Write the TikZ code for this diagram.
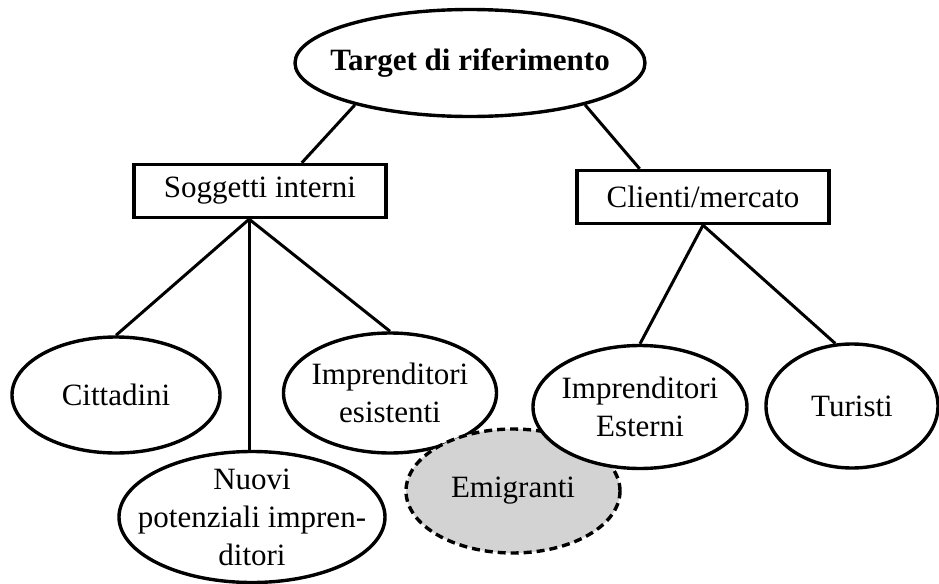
\documentclass[tikz,border=0pt]{standalone}
\usepackage{fontspec}
\setmainfont{Liberation Serif}
\usepackage{xcolor}
\usetikzlibrary{shapes.geometric}
\definecolor{emigray}{RGB}{211,211,211}

\begin{document}
\begin{tikzpicture}[x=0.5pt, y=-0.5pt,
  font=\fontsize{15.5}{19}\selectfont,
  every label/.style={align=center, inner sep=0pt},
  oval/.style={draw, ellipse, fill=white, line width=1.7pt, inner sep=0pt},
  group/.style={draw, rectangle, fill=white, line width=1.7pt, minimum width=126pt, minimum height=26.5pt},
  link/.style={line width=1.5pt}]
  \useasboundingbox (0,0) rectangle (939,584);

  \node[oval, minimum width=175pt, minimum height=53.5pt, label={center:\textbf{Target di riferimento}}] (target) at (470,63) {};

  \node[group] (soggetti) at (260,191) {Soggetti interni};
  \node[group] (clienti) at (703,197) {Clienti/mercato};

  \node[oval, minimum width=104pt, minimum height=58pt, label={center:Cittadini}] (cittadini) at (116,395) {};
  \node[oval, minimum width=133pt, minimum height=65.5pt, label={center:Nuovi\\potenziali impren-\\ditori}] (nuovi) at (252,517) {};
  \node[oval, minimum width=106.5pt, minimum height=60pt, label={center:Imprenditori\\esistenti}] (esistenti) at (390,393) {};
  \node[oval, dash pattern=on 4pt off 2.5pt, fill=emigray, minimum width=107pt, minimum height=62pt, label={center:Emigranti}] (emigranti) at (513,491) {};
  \node[oval, minimum width=107pt, minimum height=61.5pt, label={center:Imprenditori\\Esterni}] (esterni) at (640,407) {};
  \node[oval, minimum width=86pt, minimum height=62pt, label={center:Turisti}] (turisti) at (852,406) {};

  \draw[link] (target.200) -- (soggetti.34);
  \draw[link] (target.-20) -- (clienti.156);

  \draw[link] (soggetti.-111) -- (cittadini.north);
  \draw[link] (soggetti.-111) -- (soggetti.-111 |- nuovi.north);
  \draw[link] (soggetti.-111) -- (esistenti.north);

  \draw[link] (clienti.south) -- (esterni.north);
  \draw[link] (clienti.south) -- (turisti.105);
\end{tikzpicture}
\end{document}
